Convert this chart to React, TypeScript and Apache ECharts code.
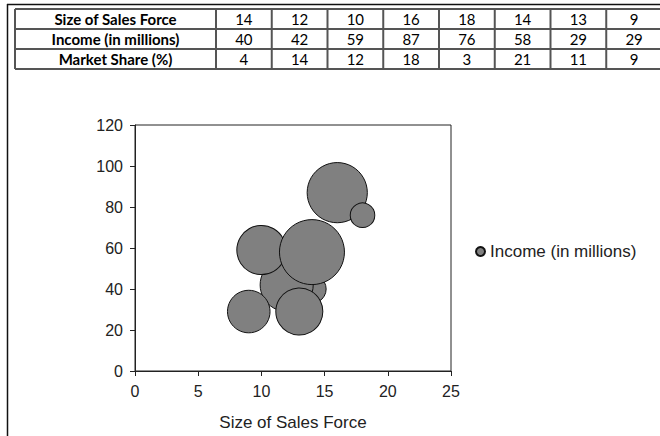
import React, { useEffect, useRef } from "react";
import * as echarts from "echarts";

const rowLabels = ["Size of Sales Force", "Income (in millions)", "Market Share (%)"];
const salesForce = [14, 12, 10, 16, 18, 14, 13, 9];
const income = [40, 42, 59, 87, 76, 58, 29, 29];
const marketShare = [4, 14, 12, 18, 3, 21, 11, 9];
const seriesName = "Income (in millions)";
const xAxisName = "Size of Sales Force";

export default function App() {
  const ref = useRef<HTMLDivElement>(null);
  useEffect(() => {
    if (!ref.current) return;
    const chart = echarts.init(ref.current, undefined, { renderer: "svg" });
    const rows = [salesForce, income, marketShare];
    const tableLeft = 15;
    const labelW = 201;
    const colW = 55.75;
    const tableTop = 9;
    const rowH = 20;
    const lineColor = "#555";
    const graphics: any[] = [];
    // outer sheet frame
    graphics.push({ type: "line", shape: { x1: 7.5, y1: 4, x2: 7.5, y2: 436 }, style: { stroke: "#111", lineWidth: 1.5 } });
    graphics.push({ type: "line", shape: { x1: 7, y1: 4.5, x2: 660, y2: 4.5 }, style: { stroke: "#111", lineWidth: 1.5 } });
    const tableRight = tableLeft + labelW + colW * salesForce.length;
    for (let r = 0; r <= rows.length; r++) {
      const y = tableTop + r * rowH;
      graphics.push({ type: "line", shape: { x1: tableLeft, y1: y, x2: tableRight, y2: y }, style: { stroke: lineColor, lineWidth: 2 } });
    }
    const xs = [tableLeft, tableLeft + labelW];
    for (let c = 1; c <= salesForce.length; c++) xs.push(tableLeft + labelW + c * colW);
    xs.forEach((x) => {
      graphics.push({ type: "line", shape: { x1: x, y1: tableTop, x2: x, y2: tableTop + rows.length * rowH }, style: { stroke: lineColor, lineWidth: 2 } });
    });
    rows.forEach((vals, r) => {
      const cy = tableTop + r * rowH + rowH / 2;
      graphics.push({
        type: "text",
        x: tableLeft + labelW / 2,
        y: cy,
        style: { text: rowLabels[r], font: "bold 15px Lato, 'Noto Sans', sans-serif", fill: "#000", align: "center", verticalAlign: "middle" },
      });
      vals.forEach((v, c) => {
        graphics.push({
          type: "text",
          x: tableLeft + labelW + c * colW + colW / 2,
          y: cy,
          style: { text: String(v), font: "15px Lato, 'Noto Sans', sans-serif", fill: "#000", align: "center", verticalAlign: "middle" },
        });
      });
    });

    const maxShare = Math.max(...marketShare);
    const maxDiameter = 65;
    const data = salesForce.map((x, i) => [x, income[i], marketShare[i]]);
    const font = "'Liberation Sans', Arial, sans-serif";

    chart.setOption({
      animation: false,
      backgroundColor: "#fff",
      textStyle: { fontFamily: font },
      graphic: graphics,
      grid: { left: 135, top: 125, width: 316, height: 246, show: true, borderColor: "#222", borderWidth: 1, backgroundColor: "transparent" },
      legend: {
        data: [seriesName],
        left: 470,
        top: 238,
        icon: "circle",
        itemWidth: 9,
        itemHeight: 9,
        itemGap: 4,
        textStyle: { fontSize: 17, color: "#222", fontFamily: font, padding: [0, 0, 0, 0] },
      },
      xAxis: {
        type: "value",
        min: 0,
        max: 25,
        interval: 5,
        name: xAxisName,
        nameLocation: "middle",
        nameGap: 43,
        nameTextStyle: { fontSize: 17, color: "#222", fontFamily: font, verticalAlign: "top" },
        axisLine: { onZero: false, lineStyle: { color: "#222", width: 1 } },
        axisTick: { show: true, length: 5, inside: false, lineStyle: { color: "#222" } },
        axisLabel: { fontSize: 16, color: "#222", margin: 12, fontFamily: font },
        splitLine: { show: false },
      },
      yAxis: {
        type: "value",
        min: 0,
        max: 120,
        interval: 20,
        axisLine: { show: true, onZero: false, lineStyle: { color: "#222", width: 1 } },
        axisTick: { show: true, length: 5, inside: false, lineStyle: { color: "#222" } },
        axisLabel: { fontSize: 16, color: "#222", margin: 12, fontFamily: font },
        splitLine: { show: false },
      },
      series: [
        {
          name: seriesName,
          type: "scatter",
          data,
          symbol: "circle",
          symbolSize: (v: number[]) => maxDiameter * Math.sqrt(v[2] / maxShare),
          itemStyle: { color: "#808080", borderColor: "#111", borderWidth: 1, opacity: 1 },
          emphasis: { disabled: true },
        },
      ],
    });
    return () => chart.dispose();
  }, []);
  return <div ref={ref} style={{ position: "fixed", left: 0, top: 0, width: 660, height: 436 }} />;
}
